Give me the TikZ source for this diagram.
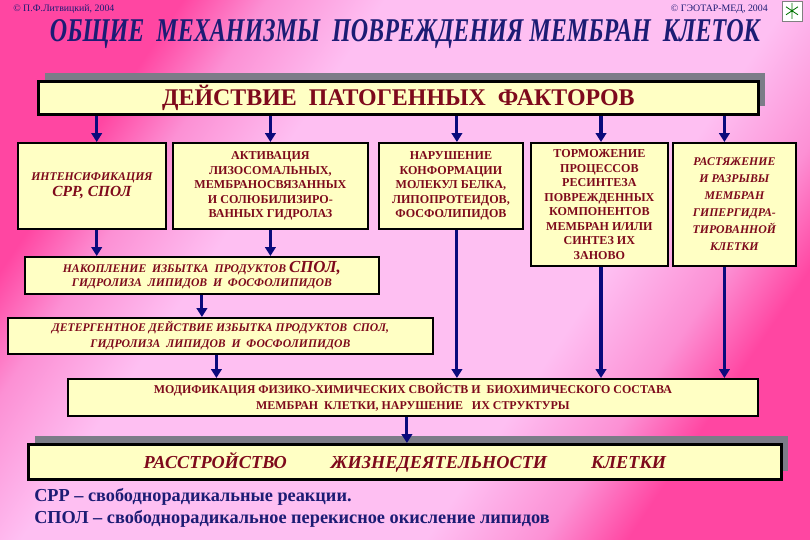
\documentclass[tikz,border=0pt]{standalone}
\usepackage{fontspec}
\setmainfont{Liberation Serif}
\usepackage{graphicx}
\usetikzlibrary{arrows.meta,shadows}
\definecolor{bgpink}{HTML}{FF46A2}
\definecolor{bgmid}{HTML}{FC90D4}
\definecolor{bglight}{HTML}{FEBFF2}
\definecolor{boxfill}{HTML}{FFFFC4}
\definecolor{boxtext}{HTML}{7E0A1C}
\definecolor{navy}{HTML}{1C1C74}
\definecolor{arrowblue}{HTML}{0A0A7C}
\definecolor{shadowgray}{HTML}{7C7C88}
%% fondo: rosa en las esquinas superior izquierda e inferior derecha
\pgfdeclarehorizontalshading{bgshade}{100bp}{color(0bp)=(bgpink);
  color(26bp)=(bgpink); color(31bp)=(bgmid); color(38bp)=(bglight);
  color(62bp)=(bglight); color(69bp)=(bgmid); color(74bp)=(bgpink);
  color(100bp)=(bgpink)}

\begin{document}
\begin{tikzpicture}[
  >={Triangle[length=2.2mm,width=2.6mm]},
  box/.style={draw=black, line width=1.3pt, fill=boxfill, text=boxtext,
              inner sep=2pt, align=center, anchor=north west,
              font=\fontsize{8.6}{10.3}\selectfont\bfseries},
  itbox/.style={box, font=\fontsize{8.4}{10}\selectfont\bfseries\itshape},
  bigbox/.style={box, line width=2pt,
              drop shadow={shadow xshift=0.17cm, shadow yshift=0.2cm,
                           fill=shadowgray, opacity=1}},
  arr/.style={->, line width=2.2pt, arrowblue}]

%% lienzo: 810 x 540 px, 1 px = 0.025 cm
\useasboundingbox (0,0) rectangle (20.25,13.5);
\shade[shading=bgshade, shading angle=-34] (0,0) rectangle (20.25,13.5);

%% ---- cabecera ----
\node[anchor=west, text=navy, font=\fontsize{7}{8}\selectfont, inner sep=0pt]
  (copyl) at (0.325,13.275) {© П.Ф.Литвицкий, 2004};
\node[anchor=east, text=navy, font=\fontsize{7}{8}\selectfont, inner sep=0pt]
  (copyr) at (19.2,13.275) {© ГЭОТАР-МЕД, 2004};
\node[draw=gray, fill=white, minimum size=0.5cm, inner sep=0pt] (logo)
  at (19.8,13.23) {};
\draw[green!45!black, line width=0.6pt]
  ([yshift=-0.2cm]logo.center) -- ([yshift=0.2cm]logo.center)
  ([xshift=-0.15cm,yshift=0.1cm]logo.center) -- ([xshift=0.15cm,yshift=-0.1cm]logo.center)
  ([xshift=-0.15cm,yshift=-0.1cm]logo.center) -- ([xshift=0.15cm,yshift=0.1cm]logo.center);

\node[anchor=base, text=navy, inner sep=0pt] (title) at (10.125,12.45)
  {\resizebox{17.75cm}{0.55cm}{\bfseries\itshape
   ОБЩИЕ\ \ МЕХАНИЗМЫ\ \ ПОВРЕЖДЕНИЯ МЕМБРАН\ \ КЛЕТОК}};

%% ---- factores ----
\node[bigbox, minimum width=18cm, minimum height=0.825cm,
      font=\fontsize{17}{20}\selectfont\bfseries] (top) at (0.925,11.5)
  {ДЕЙСТВИЕ\ \ ПАТОГЕННЫХ\ \ ФАКТОРОВ};

%% ---- fila de cinco mecanismos ----
\node[itbox, minimum width=3.7cm, minimum height=2.15cm] (b1) at (0.425,9.95)
  {ИНТЕНСИФИКАЦИЯ\\[1pt] {\fontsize{11}{13}\selectfont СРР, СПОЛ}};
\node[box, minimum width=4.875cm, minimum height=2.15cm] (b2) at (4.3,9.95)
  {АКТИВАЦИЯ\\ЛИЗОСОМАЛЬНЫХ,\\МЕМБРАНОСВЯЗАННЫХ\\И СОЛЮБИЛИЗИРО-\\ВАННЫХ ГИДРОЛАЗ};
\node[box, minimum width=3.6cm, minimum height=2.15cm] (b3) at (9.45,9.95)
  {НАРУШЕНИЕ\\КОНФОРМАЦИИ\\МОЛЕКУЛ БЕЛКА,\\ЛИПОПРОТЕИДОВ,\\ФОСФОЛИПИДОВ};
\node[box, minimum width=3.425cm, minimum height=3.075cm] (b4) at (13.25,9.95)
  {ТОРМОЖЕНИЕ\\ПРОЦЕССОВ\\РЕСИНТЕЗА\\ПОВРЕЖДЕННЫХ\\КОМПОНЕНТОВ\\МЕМБРАН И/ИЛИ\\СИНТЕЗ ИХ\\ЗАНОВО};
\node[itbox, minimum width=3.075cm, minimum height=3.075cm,
      font=\fontsize{8.4}{12.1}\selectfont\bfseries\itshape] (b5) at (16.8,9.95)
  {РАСТЯЖЕНИЕ\\И РАЗРЫВЫ\\МЕМБРАН\\ГИПЕРГИДРА-\\ТИРОВАННОЙ\\КЛЕТКИ};

%% las flechas no caen en el centro de cada caja
\foreach \b/\dx in {b1/0.12,b2/0,b3/0.15,b4/0.04,b5/-0.25}
  \draw[arr] ([xshift=\dx cm]\b.north |- top.south) -- ([xshift=\dx cm]\b.north);

%% ---- cadena de la izquierda ----
\node[itbox, minimum width=8.85cm, minimum height=0.925cm,
      font=\fontsize{8.3}{10}\selectfont\bfseries\itshape] (nak) at (0.6,7.1)
  {НАКОПЛЕНИЕ\ \ ИЗБЫТКА\ \ ПРОДУКТОВ {\fontsize{12}{12}\selectfont СПОЛ,}\\
   ГИДРОЛИЗА\ \ ЛИПИДОВ\ \ И\ \ ФОСФОЛИПИДОВ};
\node[itbox, minimum width=10.625cm, minimum height=0.9cm,
      font=\fontsize{8.3}{11.4}\selectfont\bfseries\itshape] (det) at (0.175,5.575)
  {ДЕТЕРГЕНТНОЕ ДЕЙСТВИЕ ИЗБЫТКА ПРОДУКТОВ\ \ СПОЛ,\\
   ГИДРОЛИЗА\ \ ЛИПИДОВ\ \ И\ \ ФОСФОЛИПИДОВ};

\foreach \b/\dx in {b1/0.12,b2/0}
  \draw[arr] ([xshift=\dx cm]\b.south) -- ([xshift=\dx cm]\b.south |- nak.north);
\draw[arr] (nak.south) -- (nak.south |- det.north);

%% ---- modificación y resultado ----
\node[box, minimum width=17.25cm, minimum height=0.925cm,
      font=\fontsize{8.5}{11.4}\selectfont\bfseries] (mod) at (1.675,4.05)
  {МОДИФИКАЦИЯ ФИЗИКО-ХИМИЧЕСКИХ СВОЙСТВ И\ \ БИОХИМИЧЕСКОГО СОСТАВА\\
   МЕМБРАН\ \ КЛЕТКИ, НАРУШЕНИЕ\ \ \ ИХ СТРУКТУРЫ};

\draw[arr] ([xshift=-0.1cm]det.south) -- ([xshift=-0.1cm]det.south |- mod.north);
\foreach \b/\dx in {b3/0.15,b4/0.04,b5/-0.25}
  \draw[arr] ([xshift=\dx cm]\b.south) -- ([xshift=\dx cm]\b.south |- mod.north);

\node[bigbox, minimum width=18.825cm, minimum height=0.875cm,
      font=\fontsize{13}{15}\selectfont\bfseries\itshape] (res) at (0.675,2.425)
  {РАССТРОЙСТВО\hspace{1.1cm}ЖИЗНЕДЕЯТЕЛЬНОСТИ\hspace{1.1cm}КЛЕТКИ};

\draw[arr] ([xshift=-0.15cm]mod.south) -- ([xshift=-0.15cm]mod.south |- res.north);

%% ---- notas ----
\node[anchor=north west, align=left, text=navy, inner sep=0pt,
      font=\fontsize{13}{15.6}\selectfont\bfseries] (notes) at (0.85,1.3)
  {СРР – свободнорадикальные реакции.\\
   СПОЛ – свободнорадикальное перекисное окисление липидов};

\end{tikzpicture}
\end{document}
